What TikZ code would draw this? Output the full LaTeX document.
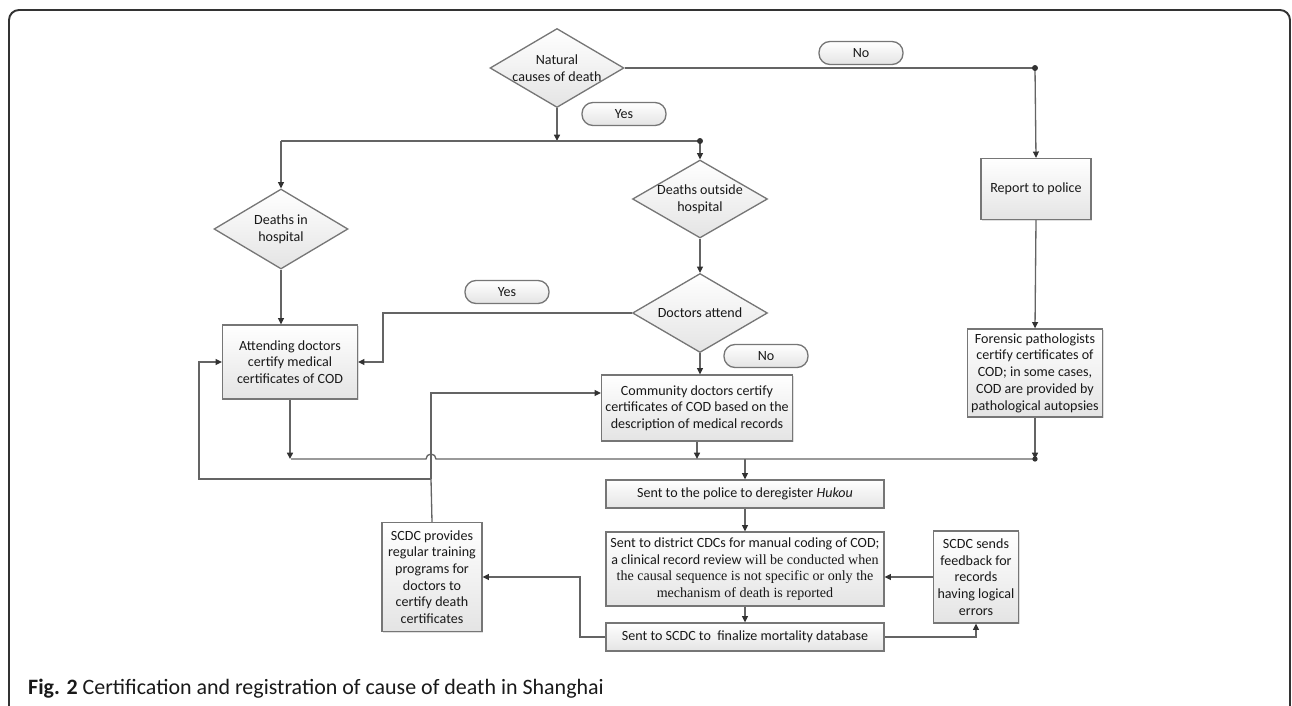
\documentclass[tikz,border=0pt]{standalone}
\usepackage{fontspec}
\setmainfont{Carlito}
\newfontfamily\timesfont{Liberation Serif}
\usepackage{tikz}
\usetikzlibrary{shapes.geometric, arrows.meta, positioning, calc, shadows}
\definecolor{mygray}{RGB}{100,100,100}
\definecolor{myborder}{RGB}{118,118,118}
\definecolor{mydark}{RGB}{50,50,50}
\definecolor{mytext}{RGB}{25,25,25}
\definecolor{myfill}{RGB}{228,228,228}
\tikzset{
  block/.style={rectangle, draw=myborder, top color=white, bottom color=myfill,
    align=center, inner sep=1pt, font=\footnotesize, text=mytext, line width=0.75pt,
    drop shadow={shadow xshift=0.7pt, shadow yshift=-0.7pt, opacity=0.25}},
  decision/.style={diamond, draw=myborder, top color=white, bottom color=myfill,
    inner sep=0pt, line width=0.75pt},
  dtext/.style={align=center, font=\footnotesize, text=mytext},
  pill/.style={rectangle, rounded corners=0.22cm, draw=myborder, top color=white,
    bottom color=myfill, minimum width=1.68cm, minimum height=0.46cm,
    font=\footnotesize, text=mytext, line width=0.75pt},
  arrow/.style={-{Triangle[length=3.6pt, width=3.4pt, color=mydark]}, line width=0.75pt, color=mygray},
  line/.style={line width=0.75pt, color=mygray},
  junc/.style={fill=mydark}
}

\begin{document}
\begin{tikzpicture}[x=0.02cm, y=-0.02cm]
  \useasboundingbox (0,0) rectangle (1292,706);

  % Outer frame and caption
  \draw[line width=1.1pt, black!80, rounded corners=0.2cm] (9,730) -- (9,10) -- (1290,10) -- (1290,730);
  \node[anchor=west, font=\fontsize{12.5}{14}\selectfont, text=black!90] (cap) at (22,689)
    {\textbf{Fig. 2} Certification and registration of cause of death in Shanghai};

  % Decisions
  \node[decision, minimum width=2.68cm, minimum height=1.58cm] (nat) at (557,68) {};
  \node[dtext] (natT) at (nat) {Natural\\causes of death};
  \node[decision, minimum width=2.68cm, minimum height=1.6cm] (hosp) at (281,229) {};
  \node[dtext] (hospT) at (hosp) {Deaths in\\hospital};
  \node[decision, minimum width=2.7cm, minimum height=1.56cm] (outs) at (700,199) {};
  \node[dtext] (outsT) at (outs) {Deaths outside\\hospital};
  \node[decision, minimum width=2.7cm, minimum height=1.58cm] (docs) at (700,313) {};
  \node[dtext] (docsT) at (docs) {Doctors attend};

  % Yes / No labels
  \node[pill] (no1) at (861,53) {No};
  \node[pill] (yes1) at (624,114) {Yes};
  \node[pill] (yes2) at (507,292) {Yes};
  \node[pill] (no2) at (766,356) {No};

  % Boxes
  \node[block, minimum width=2.7cm, minimum height=1.48cm] (att) at (290,362)
    {Attending doctors\\certify medical\\certificates of COD};
  \node[block, minimum width=3.82cm, minimum height=1.32cm] (comm) at (697,408)
    {Community doctors certify\\certificates of COD based on the\\description of medical records};
  \node[block, minimum width=2.2cm, minimum height=1.22cm] (rep) at (1036,189) {Report to police};
  \node[block, minimum width=2.7cm, minimum height=1.76cm] (fore) at (1035,373)
    {Forensic pathologists\\certify certificates of\\COD; in some cases,\\COD are provided by\\pathological autopsies};
  \node[block, minimum width=5.56cm, minimum height=0.56cm] (pol) at (745,494)
    {Sent to the police to deregister \textit{Hukou}};
  \node[block, minimum width=5.56cm, minimum height=1.48cm] (dist) at (745,569)
    {Sent to district CDCs for manual coding of COD;\\a clinical record review {\timesfont will be conducted when}\\{\timesfont the causal sequence is not specific or only the}\\{\timesfont mechanism of death is reported}};
  \node[block, minimum width=5.56cm, minimum height=0.56cm] (fin) at (745,637)
    {Sent to SCDC to\ \ finalize mortality database};
  \node[block, minimum width=2.0cm, minimum height=2.18cm] (train) at (432,577)
    {SCDC provides\\regular training\\programs for\\doctors to\\certify death\\certificates};
  \node[block, minimum width=1.7cm, minimum height=1.84cm] (feed) at (976,577)
    {SCDC sends\\feedback for\\records\\having logical\\errors};

  % Junctions
  \coordinate (noR) at (1035,68);
  \coordinate (yesL) at (281,141);
  \coordinate (yesR) at (700,141);
  \coordinate (yesBend) at (383,313);
  \coordinate (mergeL) at (291,459);
  \coordinate (mergeR) at (1035,459);
  \coordinate (loopJ) at (431,479);
  \coordinate (loopL) at (199,479);
  \coordinate (finBend) at (580,577);

  % Natural causes branch
  \draw[line] (nat.east) -- (noR);
  \draw[arrow] (noR) -- (rep.north);
  \draw[arrow] (nat.south) -- (nat.south |- yesL);
  \draw[line] (yesL) -- (yesR);
  \draw[arrow] (yesL) -- (hosp.north);
  \draw[arrow] (yesR) -- (outs.north);
  \fill[junc] (noR) circle (1.7pt);
  \fill[junc] (yesR) circle (1.7pt);

  % Hospital and outside hospital
  \draw[arrow] (hosp.south) -- (hosp.south |- att.north);
  \draw[arrow] (outs.south) -- (docs.north);
  \draw[arrow] (docs.west) -- (yesBend) |- (att.east);
  \draw[arrow] (docs.south) -- (docs.south |- comm.north);
  \draw[arrow] (rep.south) -- (fore.north);

  % Merge line with hop
  \draw[line] (mergeL) -- (426,459) arc[start angle=180, end angle=0, radius=0.1cm] -- (mergeR);
  \draw[arrow] (att.south) -- (att.south |- mergeL);
  \draw[arrow] (comm.south) -- (comm.south |- mergeL);
  \draw[arrow] (fore.south) -- (mergeR);
  \fill[junc] (mergeR) circle (1.5pt);

  % Registration chain
  \draw[arrow] (pol.north |- mergeL) -- (pol.north);
  \draw[arrow] (pol.south) -- (dist.north);
  \draw[arrow] (dist.south) -- (fin.north);
  \draw[arrow] (feed.west) -- (feed.west -| dist.east);
  \draw[arrow] (fin.east) -| (feed.south);
  \draw[arrow] (fin.west) -| (finBend) -- (train.east);

  % Training feedback loop
  \draw[line] (train.north) -- (loopJ);
  \draw[arrow] (loopJ) -- (loopL) |- (att.west);
  \draw[arrow] (loopJ) |- ([yshift=0.3cm]comm.west);
\end{tikzpicture}
\end{document}
